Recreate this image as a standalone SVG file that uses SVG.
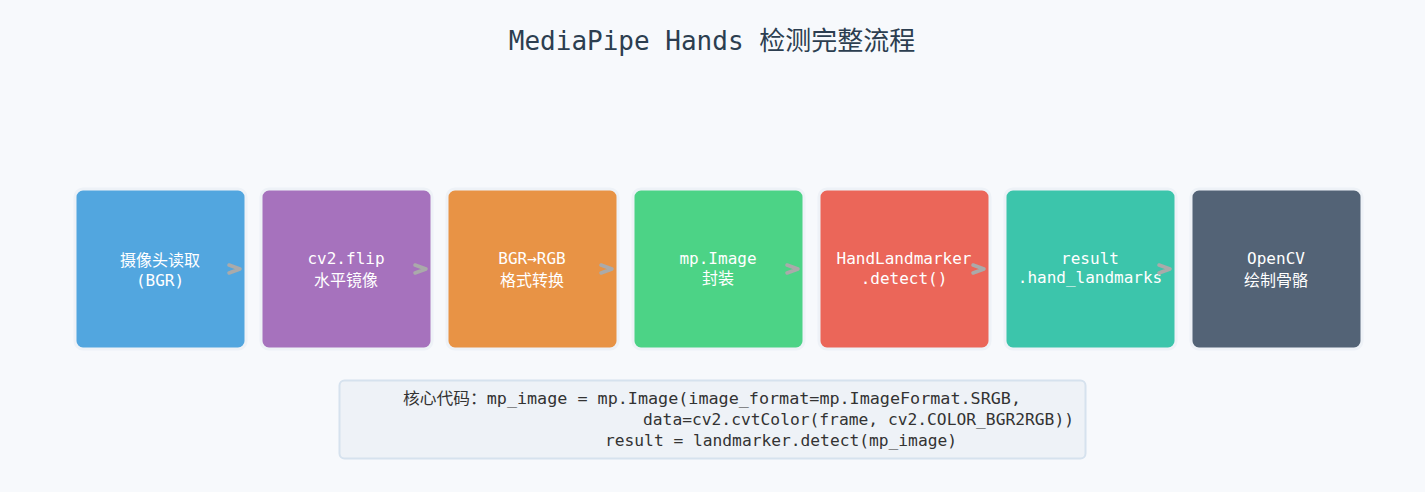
<svg xmlns="http://www.w3.org/2000/svg" width="1425" height="492" viewBox="0 0 1425 492">
<style>
text{font-family:"DejaVu Sans Mono","Noto Sans CJK SC",monospace}
.t{font-size:26px;fill:#2c3e50;text-anchor:middle}
.b{stroke:#eef2f7;stroke-width:3}
.l{font-size:16px;fill:#fff;text-anchor:middle}
.c{font-size:16px;fill:#333}
.a{fill:none;stroke:#aaa;stroke-width:3.5;stroke-linecap:round;stroke-linejoin:round}
</style>
<rect width="1425" height="492" fill="#f7f9fc"/>
<text class="t" x="712" y="50">MediaPipe Hands 检测完整流程</text>
<g id="n1"><rect class="b" x="75" y="189" width="171" height="160" rx="8" fill="#52a6df"/><text class="l" x="160" y="266" font-size="17">摄像头读取</text><text class="l" x="160" y="286">(BGR)</text></g>
<g id="n2"><rect class="b" x="261" y="189" width="171" height="160" rx="8" fill="#a672bd"/><text class="l" x="346" y="264">cv2.flip</text><text class="l" x="346" y="286" font-size="17">水平镜像</text></g>
<g id="n3"><rect class="b" x="447" y="189" width="171" height="160" rx="8" fill="#e89345"/><text class="l" x="532" y="264">BGR→RGB</text><text class="l" x="532" y="286" font-size="17">格式转换</text></g>
<g id="n4"><rect class="b" x="633" y="189" width="171" height="160" rx="8" fill="#4cd386"/><text class="l" x="718" y="264">mp.Image</text><text class="l" x="718" y="284" font-size="17">封装</text></g>
<g id="n5"><rect class="b" x="819" y="189" width="171" height="160" rx="8" fill="#eb6659"/><text class="l" x="904" y="264">HandLandmarker</text><text class="l" x="904" y="284">.detect()</text></g>
<g id="n6"><rect class="b" x="1005" y="189" width="171" height="160" rx="8" fill="#3cc5ab"/><text class="l" x="1090" y="264">result</text><text class="l" x="1090" y="283">.hand_landmarks</text></g>
<g id="n7"><rect class="b" x="1191" y="189" width="171" height="160" rx="8" fill="#536376"/><text class="l" x="1276" y="264">OpenCV</text><text class="l" x="1276" y="286" font-size="17">绘制骨骼</text></g>
<g id="connectors">
<path class="a" d="M229,265 L240,269 L229,273"/>
<path class="a" d="M415,265 L426,269 L415,273"/>
<path class="a" d="M601,265 L612,269 L601,273"/>
<path class="a" d="M787,265 L798,269 L787,273"/>
<path class="a" d="M973,265 L984,269 L973,273"/>
<path class="a" d="M1159,265 L1170,269 L1159,273"/>
</g>
<g id="code"><rect x="339.5" y="380.5" width="746" height="78" rx="5" fill="#eef2f7" stroke="#d6e2ee" stroke-width="2"/>
<text class="c" x="403" y="404" textLength="618" lengthAdjust="spacingAndGlyphs">核心代码：mp_image = mp.Image(image_format=mp.ImageFormat.SRGB,</text>
<text class="c" x="643" y="425" textLength="431" lengthAdjust="spacingAndGlyphs">data=cv2.cvtColor(frame, cv2.COLOR_BGR2RGB))</text>
<text class="c" x="605" y="446" textLength="352" lengthAdjust="spacingAndGlyphs">result = landmarker.detect(mp_image)</text>
</g>
</svg>
